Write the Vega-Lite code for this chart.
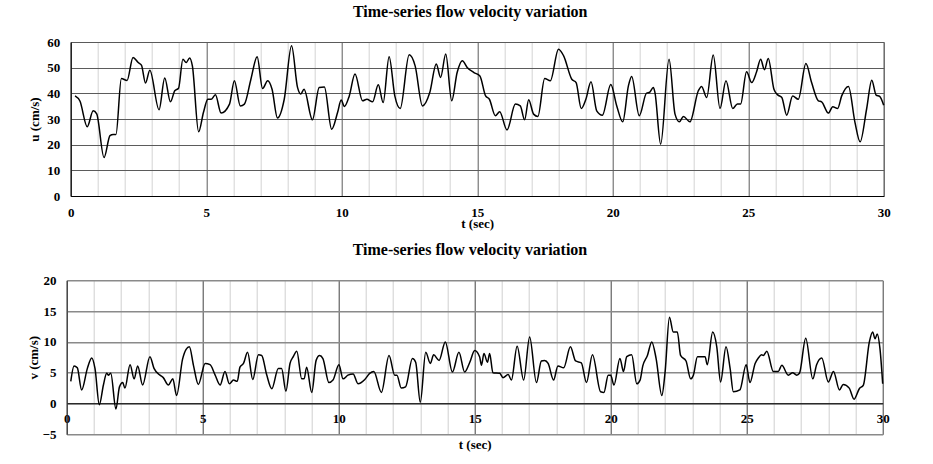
{
  "$schema": "https://vega.github.io/schema/vega-lite/v6.json",
  "padding": {"left": 27.7, "top": 3, "right": 0, "bottom": 0},
  "background": "white",
  "spacing": 9.3,
  "datasets": {
    "u": [
      {"t":0.16,"u":39},{"t":0.34,"u":37},{"t":0.61,"u":27},{"t":0.83,"u":33.2},{"t":0.96,"u":32},{"t":1.23,"u":15},{"t":1.45,"u":23.5},{"t":1.57,"u":24},{"t":1.67,"u":24},{"t":1.87,"u":45.8},{"t":2.08,"u":45},{"t":2.3,"u":54},{"t":2.49,"u":52},{"t":2.61,"u":51},{"t":2.76,"u":44},{"t":2.92,"u":49},{"t":3.26,"u":33.6},{"t":3.47,"u":46},{"t":3.68,"u":36.7},{"t":3.84,"u":41},{"t":3.98,"u":42},{"t":4.14,"u":53.3},{"t":4.26,"u":52},{"t":4.39,"u":53.8},{"t":4.49,"u":50.7},{"t":4.72,"u":25},{"t":4.9,"u":32.6},{"t":5.06,"u":37.7},{"t":5.18,"u":37.7},{"t":5.34,"u":39.4},{"t":5.55,"u":32.3},{"t":5.86,"u":35.8},{"t":6.04,"u":44.9},{"t":6.26,"u":35.1},{"t":6.41,"u":35.8},{"t":6.65,"u":45.5},{"t":6.88,"u":54.3},{"t":7.08,"u":41.9},{"t":7.27,"u":44.9},{"t":7.43,"u":41.6},{"t":7.63,"u":30.4},{"t":7.88,"u":37.7},{"t":8.15,"u":58.5},{"t":8.37,"u":42.3},{"t":8.49,"u":39.7},{"t":8.61,"u":41.6},{"t":8.92,"u":29.7},{"t":9.17,"u":42.3},{"t":9.36,"u":42.5},{"t":9.63,"u":26},{"t":9.85,"u":32.6},{"t":9.98,"u":37.4},{"t":10.1,"u":34.9},{"t":10.28,"u":39},{"t":10.49,"u":47.5},{"t":10.77,"u":37.1},{"t":10.93,"u":37.7},{"t":11.14,"u":36.7},{"t":11.35,"u":43.3},{"t":11.53,"u":36.4},{"t":11.75,"u":54.3},{"t":11.96,"u":39},{"t":12.16,"u":34.1},{"t":12.49,"u":55},{"t":12.71,"u":50.7},{"t":12.98,"u":35.1},{"t":13.25,"u":40.3},{"t":13.49,"u":51.4},{"t":13.65,"u":46.2},{"t":13.84,"u":55.3},{"t":14.06,"u":37.1},{"t":14.26,"u":48.1},{"t":14.45,"u":52.7},{"t":14.63,"u":50.1},{"t":14.88,"u":48.1},{"t":15.1,"u":46.8},{"t":15.31,"u":39},{"t":15.45,"u":37.7},{"t":15.67,"u":31.3},{"t":15.83,"u":32.8},{"t":16.1,"u":25.7},{"t":16.41,"u":35.8},{"t":16.59,"u":35.1},{"t":16.75,"u":29.7},{"t":16.9,"u":37.5},{"t":17.08,"u":31.9},{"t":17.24,"u":31},{"t":17.49,"u":45.8},{"t":17.7,"u":44.9},{"t":18.0,"u":57.2},{"t":18.19,"u":54.6},{"t":18.49,"u":45.5},{"t":18.65,"u":44.2},{"t":18.84,"u":34.1},{"t":19.01,"u":37.7},{"t":19.2,"u":44.5},{"t":19.41,"u":33.2},{"t":19.62,"u":31.5},{"t":19.93,"u":43.4},{"t":20.15,"u":35.1},{"t":20.37,"u":28.9},{"t":20.58,"u":42.9},{"t":20.7,"u":46.6},{"t":20.98,"u":31.3},{"t":21.25,"u":40.1},{"t":21.35,"u":40.3},{"t":21.5,"u":42.3},{"t":21.56,"u":40.3},{"t":21.77,"u":20.2},{"t":22.08,"u":53.3},{"t":22.3,"u":31.9},{"t":22.46,"u":28.9},{"t":22.61,"u":31},{"t":22.85,"u":28.9},{"t":23.16,"u":41},{"t":23.28,"u":42.7},{"t":23.47,"u":38.4},{"t":23.71,"u":54.9},{"t":23.96,"u":34.1},{"t":24.18,"u":44.9},{"t":24.43,"u":34.1},{"t":24.6,"u":35.8},{"t":24.72,"u":35.8},{"t":24.94,"u":48.4},{"t":25.13,"u":44.2},{"t":25.31,"u":48.4},{"t":25.46,"u":53.3},{"t":25.6,"u":49.2},{"t":25.74,"u":53.6},{"t":25.95,"u":41.6},{"t":26.09,"u":39.4},{"t":26.24,"u":38.4},{"t":26.42,"u":31.5},{"t":26.64,"u":39},{"t":26.85,"u":37.7},{"t":27.13,"u":51.6},{"t":27.34,"u":44.2},{"t":27.59,"u":37.1},{"t":27.71,"u":36.7},{"t":27.96,"u":32.3},{"t":28.12,"u":34.8},{"t":28.3,"u":34.1},{"t":28.45,"u":39},{"t":28.7,"u":42.7},{"t":28.94,"u":28.7},{"t":29.13,"u":21.1},{"t":29.37,"u":33.9},{"t":29.56,"u":45.1},{"t":29.72,"u":39.3},{"t":29.85,"u":38.8},{"t":30,"u":35.4}
    ],
    "v": [
      {"t":0.15,"v":3.6},{"t":0.27,"v":6.1},{"t":0.39,"v":5.8},{"t":0.55,"v":2.2},{"t":0.76,"v":5.7},{"t":0.92,"v":7.4},{"t":1.04,"v":5.7},{"t":1.2,"v":-0.2},{"t":1.35,"v":3},{"t":1.47,"v":4.9},{"t":1.53,"v":4.6},{"t":1.62,"v":4.9},{"t":1.81,"v":-0.9},{"t":1.94,"v":2.7},{"t":2.06,"v":3.4},{"t":2.14,"v":2.5},{"t":2.33,"v":6.3},{"t":2.48,"v":4},{"t":2.61,"v":6.1},{"t":2.79,"v":3},{"t":3.06,"v":7.6},{"t":3.21,"v":5.7},{"t":3.43,"v":4.6},{"t":3.55,"v":4.2},{"t":3.74,"v":3},{"t":3.9,"v":4},{"t":4.04,"v":1.3},{"t":4.26,"v":7.2},{"t":4.39,"v":8.8},{"t":4.51,"v":9.2},{"t":4.66,"v":6.2},{"t":4.84,"v":3.1},{"t":5.09,"v":6.5},{"t":5.27,"v":6.3},{"t":5.45,"v":4.7},{"t":5.64,"v":3},{"t":5.82,"v":5.2},{"t":5.98,"v":3.2},{"t":6.13,"v":3.8},{"t":6.27,"v":3.6},{"t":6.37,"v":5.9},{"t":6.5,"v":6.5},{"t":6.65,"v":8.3},{"t":6.84,"v":3.9},{"t":7.05,"v":7.9},{"t":7.17,"v":7.8},{"t":7.35,"v":4.7},{"t":7.54,"v":2.4},{"t":7.78,"v":5.7},{"t":7.9,"v":5.7},{"t":8.06,"v":2},{"t":8.21,"v":6.5},{"t":8.33,"v":7.6},{"t":8.46,"v":8.5},{"t":8.64,"v":4},{"t":8.73,"v":4},{"t":8.82,"v":5.9},{"t":9.01,"v":1.8},{"t":9.17,"v":7},{"t":9.3,"v":7.8},{"t":9.42,"v":7.3},{"t":9.64,"v":3.4},{"t":9.79,"v":3.8},{"t":10.01,"v":6.3},{"t":10.16,"v":4},{"t":10.34,"v":4.6},{"t":10.53,"v":4.8},{"t":10.71,"v":3.2},{"t":10.96,"v":3.9},{"t":11.14,"v":4.9},{"t":11.29,"v":5.2},{"t":11.57,"v":1.8},{"t":11.85,"v":7.8},{"t":12.06,"v":4.6},{"t":12.14,"v":4.6},{"t":12.3,"v":2.5},{"t":12.46,"v":2.7},{"t":12.71,"v":7.3},{"t":12.83,"v":6.7},{"t":13.0,"v":0.2},{"t":13.2,"v":8.3},{"t":13.37,"v":6.5},{"t":13.49,"v":7.9},{"t":13.69,"v":7},{"t":13.92,"v":10},{"t":14.18,"v":5.1},{"t":14.42,"v":8.3},{"t":14.63,"v":5.1},{"t":14.82,"v":6.7},{"t":15.0,"v":8.6},{"t":15.18,"v":7.6},{"t":15.25,"v":6.2},{"t":15.34,"v":8.1},{"t":15.47,"v":6.7},{"t":15.55,"v":8.1},{"t":15.67,"v":5},{"t":15.92,"v":4.9},{"t":16.04,"v":4.2},{"t":16.23,"v":4.7},{"t":16.35,"v":3.8},{"t":16.56,"v":9.3},{"t":16.8,"v":3.8},{"t":17.02,"v":10.8},{"t":17.27,"v":3.4},{"t":17.45,"v":6.9},{"t":17.57,"v":7},{"t":17.7,"v":6.5},{"t":17.9,"v":3.8},{"t":18.06,"v":6.1},{"t":18.27,"v":5.8},{"t":18.52,"v":9.2},{"t":18.71,"v":6.9},{"t":18.92,"v":6.6},{"t":19.11,"v":3.4},{"t":19.33,"v":7.9},{"t":19.63,"v":1.9},{"t":19.75,"v":1.8},{"t":19.91,"v":4.6},{"t":20.0,"v":4.6},{"t":20.12,"v":3},{"t":20.34,"v":7.3},{"t":20.47,"v":5.2},{"t":20.59,"v":7.6},{"t":20.77,"v":7.9},{"t":20.96,"v":3.2},{"t":21.08,"v":3.8},{"t":21.18,"v":6.1},{"t":21.35,"v":7.8},{"t":21.51,"v":10},{"t":21.67,"v":7.3},{"t":21.88,"v":1.3},{"t":22.0,"v":5.1},{"t":22.16,"v":14},{"t":22.3,"v":11.6},{"t":22.45,"v":11.6},{"t":22.57,"v":7.8},{"t":22.77,"v":6.9},{"t":22.94,"v":4},{"t":23.04,"v":4.6},{"t":23.19,"v":7.6},{"t":23.35,"v":7.6},{"t":23.47,"v":7.6},{"t":23.55,"v":6.3},{"t":23.75,"v":11.6},{"t":23.9,"v":9.2},{"t":24.04,"v":3.5},{"t":24.24,"v":9.2},{"t":24.39,"v":5.7},{"t":24.51,"v":1.9},{"t":24.75,"v":2.2},{"t":24.98,"v":6.3},{"t":25.12,"v":3.4},{"t":25.31,"v":6.5},{"t":25.43,"v":7.4},{"t":25.55,"v":7.9},{"t":25.61,"v":7.8},{"t":25.74,"v":8.5},{"t":25.98,"v":5.2},{"t":26.16,"v":5.2},{"t":26.29,"v":6.2},{"t":26.53,"v":4.6},{"t":26.69,"v":5},{"t":26.84,"v":4.6},{"t":26.94,"v":4.9},{"t":27.17,"v":10.6},{"t":27.43,"v":4},{"t":27.57,"v":6.3},{"t":27.76,"v":7.4},{"t":28.0,"v":3.5},{"t":28.19,"v":5.2},{"t":28.41,"v":2.2},{"t":28.55,"v":3.1},{"t":28.77,"v":2.5},{"t":28.95,"v":0.7},{"t":29.14,"v":2.4},{"t":29.29,"v":3},{"t":29.51,"v":10},{"t":29.63,"v":11.6},{"t":29.72,"v":10.5},{"t":29.8,"v":11.3},{"t":29.9,"v":8.9},{"t":30.0,"v":3.2}
    ]
  },
  "vconcat": [
    {
      "width": 813,
      "height": 154,
      "title": {"text": "Time-series flow velocity variation", "dx": -7, "offset": 16},
      "view": {"stroke": "#6e6e6e", "strokeWidth": 1},
      "data": {"name": "u"},
      "mark": {"type": "line", "color": "black", "strokeWidth": 1.5, "interpolate": "monotone"},
      "encoding": {
        "x": {
          "field": "t", "type": "quantitative",
          "scale": {"domain": [0, 30], "nice": false, "zero": false},
          "axis": {
            "title": "t (sec)",
            "values": [0,1,2,3,4,5,6,7,8,9,10,11,12,13,14,15,16,17,18,19,20,21,22,23,24,25,26,27,28,29,30],
            "labelExpr": "datum.value % 5 === 0 ? datum.label : ''",
            "grid": true,
            "gridColor": {"condition": {"test": "datum.value % 5 === 0", "value": "#5a5a5a"}, "value": "#d4d4d4"},
            "domainColor": "black",
            "labelPadding": 10.5,
            "titlePadding": -1.5
          }
        },
        "y": {
          "field": "u", "type": "quantitative",
          "scale": {"domain": [0, 60], "nice": false},
          "axis": {
            "title": "u (cm/s)",
            "values": [0,10,20,30,40,50,60],
            "grid": true,
            "gridColor": "#5a5a5a",
            "domainColor": "black",
            "labelPadding": 11,
            "titlePadding": 5
          }
        }
      }
    },
    {
      "width": 812,
      "height": 154,
      "title": {"text": "Time-series flow velocity variation", "dx": -6.7, "offset": 16.7},
      "view": {"stroke": null},
      "data": {"name": "v"},
      "mark": {"type": "line", "color": "black", "strokeWidth": 1.5, "interpolate": "monotone"},
      "encoding": {
        "x": {
          "field": "t", "type": "quantitative",
          "scale": {"domain": [0, 30], "nice": false, "zero": false, "range": [-4, 812]},
          "axis": {
            "title": "t (sec)",
            "offset": -31,
            "values": [0,1,2,3,4,5,6,7,8,9,10,11,12,13,14,15,16,17,18,19,20,21,22,23,24,25,26,27,28,29,30],
            "labelExpr": "datum.value % 5 === 0 ? datum.label : ''",
            "grid": true,
            "gridColor": {"condition": {"test": "datum.value % 5 === 0", "value": "#404040"}, "value": "#cfcfcf"},
            "domainColor": "black",
            "labelPadding": 9.5,
            "titlePadding": 13
          }
        },
        "y": {
          "field": "v", "type": "quantitative",
          "scale": {"domain": [-5, 20], "nice": false},
          "axis": {
            "title": "v (cm/s)",
            "offset": 4,
            "values": [-5,0,5,10,15,20],
            "grid": true,
            "gridColor": "#8a8a8a",
            "gridWidth": 1.5,
            "domainColor": "#333333",
            "labelPadding": 10.7,
            "titlePadding": 1.3
          }
        }
      }
    }
  ],
  "config": {
    "font": "Liberation Serif",
    "title": {"font": "Liberation Serif", "fontSize": 16, "fontWeight": "bold", "color": "black", "anchor": "middle"},
    "axis": {
      "labelFont": "Liberation Serif", "labelFontSize": 13, "labelFontWeight": "bold", "labelColor": "black",
      "titleFont": "Liberation Serif", "titleFontSize": 13, "titleFontWeight": "bold", "titleColor": "black",
      "ticks": false, "tickSize": 0, "labelFlush": false, "labelOverlap": false, "gridOpacity": 1, "domainWidth": 1
    }
  }
}
